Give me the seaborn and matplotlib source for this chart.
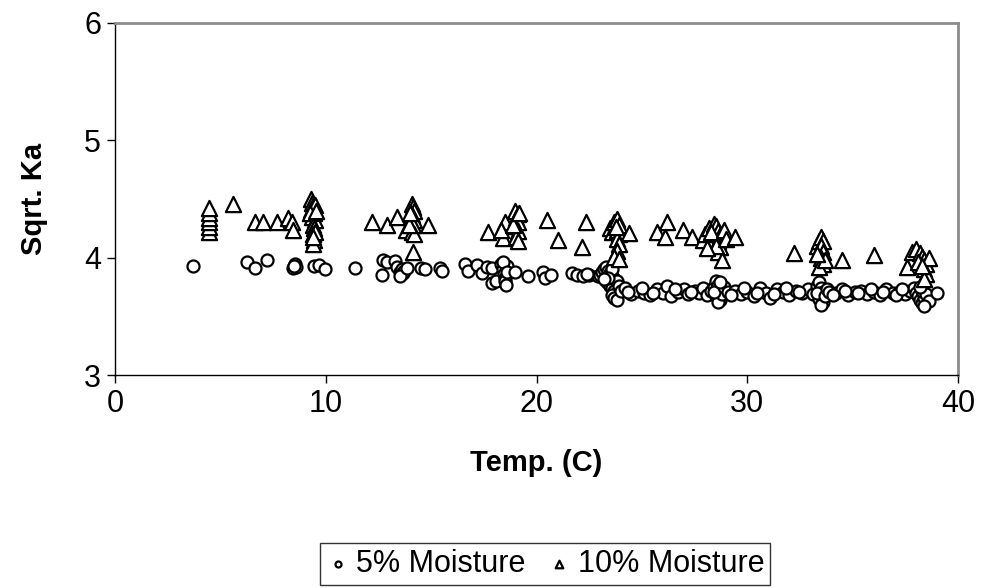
#%%
# Import libraries
import pandas as pd
import seaborn as sns
import matplotlib.pyplot as plt

#%%
# 5% moisture readings (temperature in C, square root of Ka)
temp_5 = [3.7, 6.26, 6.64, 7.2, 8.45, 8.55, 8.6, 8.5, 9.44, 9.7, 9.96, 11.4,
          12.7, 12.9, 12.67, 13.3, 13.4, 13.5, 13.55, 13.6, 13.65, 13.7, 13.5, 13.85,
          14.5, 14.7, 15.4, 15.5, 16.6, 16.75, 17.2, 17.4, 17.65, 17.9, 17.9, 18.1,
          18.3, 18.4, 18.45, 18.5, 18.5, 18.55, 18.6, 18.4, 18.6, 19.0, 19.6, 20.3,
          20.4, 20.7, 21.7, 21.9, 22.2, 22.5, 22.9, 22.4,
          23.0, 23.1, 23.2, 23.3, 23.4, 23.5, 23.6, 23.7, 23.3, 23.4, 23.5, 23.6,
          23.7, 23.8, 23.6, 23.7, 23.8, 23.5, 23.6, 23.8, 23.9, 24.0, 23.4, 23.2,
          24.2, 24.5, 24.8, 25.1, 25.4, 25.7, 26.0, 26.2, 26.4, 26.7, 27.0, 27.2,
          27.5, 27.7, 27.9, 28.1, 28.3,
          28.4, 28.5, 28.6, 28.7, 28.6, 28.5, 28.7, 28.6, 28.8, 28.4, 28.9, 28.7,
          29.1, 29.4, 29.7, 30.0, 30.3, 30.6, 30.9, 31.1, 31.4, 31.7, 32.0, 32.3,
          32.6, 32.9, 33.1,
          33.3, 33.4, 33.5, 33.6, 33.5, 33.4, 33.6, 33.5, 33.3, 33.7, 33.8,
          33.9, 34.2, 34.5, 34.8, 35.1, 35.4, 35.7, 36.0, 36.3, 36.6, 36.9, 37.2,
          37.5, 37.7,
          37.9, 38.0, 38.1, 38.2, 38.3, 38.4, 38.3, 38.5, 38.2, 38.6, 38.4, 39.0,
          24.35, 25.0, 25.55, 26.55, 27.35, 29.25, 29.85, 30.45, 31.25, 31.85,
          32.45, 34.05, 34.65, 35.25, 35.85, 36.45, 37.05, 37.35]
ka_5 = [3.93, 3.96, 3.91, 3.98, 3.91, 3.95, 3.92, 3.93, 3.93, 3.94, 3.90, 3.91,
        3.98, 3.96, 3.85, 3.97, 3.92, 3.88, 3.86, 3.90, 3.87, 3.89, 3.84, 3.91,
        3.91, 3.90, 3.91, 3.89, 3.95, 3.89, 3.94, 3.87, 3.92, 3.91, 3.78, 3.80,
        3.95, 3.90, 3.86, 3.83, 3.80, 3.77, 3.93, 3.96, 3.88, 3.88, 3.84, 3.88,
        3.83, 3.85, 3.87, 3.85, 3.84, 3.85, 3.84, 3.86,
        3.85, 3.88, 3.90, 3.92, 3.89, 3.87, 3.84, 3.82, 3.80, 3.78, 3.76, 3.74,
        3.72, 3.70, 3.68, 3.66, 3.64, 3.86, 3.90, 3.80, 3.76, 3.72, 3.83, 3.82,
        3.74, 3.69, 3.72, 3.70, 3.68, 3.73, 3.70, 3.76, 3.67, 3.71, 3.73, 3.69,
        3.72, 3.70, 3.74, 3.68, 3.72,
        3.75, 3.80, 3.77, 3.73, 3.70, 3.67, 3.64, 3.62, 3.69, 3.71, 3.75, 3.79,
        3.71, 3.72, 3.69, 3.71, 3.67, 3.74, 3.70, 3.66, 3.73, 3.71, 3.68, 3.72,
        3.70, 3.73, 3.69,
        3.76, 3.79, 3.74, 3.71, 3.68, 3.65, 3.62, 3.60, 3.70, 3.67, 3.73,
        3.71, 3.70, 3.73, 3.68, 3.71, 3.72, 3.69, 3.71, 3.68, 3.73, 3.70, 3.71,
        3.69, 3.72,
        3.74, 3.70, 3.67, 3.64, 3.61, 3.66, 3.72, 3.69, 3.75, 3.63, 3.59, 3.70,
        3.71, 3.74, 3.70, 3.73, 3.71, 3.68, 3.74, 3.70, 3.69, 3.74,
        3.71, 3.68, 3.72, 3.70, 3.73, 3.71, 3.68, 3.73]

# 10% moisture readings
temp_10 = [4.45, 4.45, 4.45, 4.45, 4.45, 4.45,
           5.6, 6.64, 7.0, 7.7, 8.2, 8.4, 8.45,
           9.3, 9.35, 9.4, 9.3, 9.45, 9.35, 9.5, 9.4, 9.45, 9.4, 9.45, 9.4,
           9.5, 9.25, 9.55, 9.5, 9.4,
           12.2, 12.9, 13.4, 13.8,
           14.1, 14.15, 14.2, 14.1, 14.2, 14.15, 14.1, 14.2, 14.15, 13.95, 14.0,
           14.85, 17.7, 18.5, 18.4, 18.3,
           19.0, 19.1, 19.05, 19.1, 19.0, 19.1, 19.05, 19.1, 18.9, 19.15,
           20.5, 21.0, 22.35, 22.15,
           23.5, 23.6, 23.7, 23.8, 23.9, 23.8, 23.9, 23.8, 23.9, 23.8, 23.7, 23.9, 23.75,
           24.4, 25.7, 26.2, 26.1, 26.95, 27.4,
           27.9, 28.0, 28.2, 28.4, 28.5, 28.6, 28.7, 28.6, 28.7, 28.6, 28.8, 28.5,
           28.3, 28.9, 28.1, 29.0,
           29.4, 32.2,
           33.3, 33.4, 33.5, 33.6, 33.5, 33.6, 33.5, 33.6, 33.4, 33.7, 33.3,
           34.5, 36.0, 37.6,
           37.8, 38.0, 38.2, 38.3, 38.4, 38.5, 38.4, 38.5, 38.4, 38.6, 38.1, 38.3]
ka_10 = [4.22, 4.26, 4.30, 4.34, 4.38, 4.42,
         4.46, 4.30, 4.30, 4.30, 4.34, 4.30, 4.24,
         4.50, 4.47, 4.44, 4.41, 4.38, 4.35, 4.32, 4.28, 4.25, 4.20, 4.15, 4.12,
         4.45, 4.38, 4.40, 4.22, 4.18,
         4.30, 4.28, 4.35, 4.24,
         4.46, 4.43, 4.40, 4.36, 4.32, 4.28, 4.22, 4.20, 4.05, 4.28, 4.38,
         4.28, 4.22, 4.30, 4.17, 4.24,
         4.40, 4.37, 4.34, 4.30, 4.27, 4.23, 4.18, 4.14, 4.28, 4.38,
         4.32, 4.15, 4.30, 4.09,
         4.25, 4.22, 4.30, 4.33, 4.28, 4.24, 4.20, 4.16, 4.12, 4.06, 4.01, 3.99, 4.26,
         4.21, 4.22, 4.30, 4.18, 4.24, 4.18,
         4.15, 4.20, 4.25, 4.29, 4.27, 4.23, 4.19, 4.14, 4.09, 4.05, 3.98, 4.10,
         4.22, 4.24, 4.08, 4.16,
         4.18, 4.04,
         4.10, 4.14, 4.18, 4.14, 4.10, 4.05, 4.00, 3.95, 3.92, 3.98, 4.03,
         3.98, 4.02, 3.92,
         4.05, 4.07, 4.04, 4.01, 3.98, 3.95, 3.90, 3.86, 3.82, 4.00, 3.96, 3.93]

#%%
data = pd.concat([
    pd.DataFrame({"temp": temp_5, "ka": ka_5, "sample": "5% Moisture"}),
    pd.DataFrame({"temp": temp_10, "ka": ka_10, "sample": "10% Moisture"}),
])

sns.set_style("white")
plt.rcParams["font.family"] = ["Liberation Sans", "DejaVu Sans"]
plt.rcParams["text.color"] = "black"
plt.rcParams["axes.labelcolor"] = "black"
plt.rcParams["xtick.color"] = "black"
plt.rcParams["ytick.color"] = "black"

fig = plt.figure(figsize=(9.81, 5.88), dpi=100)
ax = fig.add_axes([0.1172, 0.3622, 0.8594, 0.5987])

markers = {"5% Moisture": "o", "10% Moisture": "^"}
sizes = {"5% Moisture": 75, "10% Moisture": 120}
for name, grp in data.groupby("sample", sort=False):
    sns.scatterplot(data=grp, x="temp", y="ka", marker=markers[name], s=sizes[name],
                    facecolor="white", edgecolor="black", linewidth=1.6,
                    label=name, ax=ax, legend=False)

ax.set_xlim(0, 40)
ax.set_ylim(3, 6)
ax.set_xticks([0, 10, 20, 30, 40])
ax.set_yticks([3, 4, 5, 6])
ax.tick_params(axis="both", labelsize=22, direction="out", length=6, width=1,
               left=True, bottom=True, pad=4)

# Axis frame: dark left/bottom, grey top/right
for side in ["left", "bottom"]:
    ax.spines[side].set_color("black")
    ax.spines[side].set_linewidth(1.0)
for side in ["top", "right"]:
    ax.spines[side].set_color("#8c8c8c")
    ax.spines[side].set_linewidth(2.0)

ax.set_xlabel("Temp. (C)", fontsize=21, fontweight="bold", labelpad=22)
ax.set_ylabel("Sqrt. Ka", fontsize=21, fontweight="bold", labelpad=26)

handles, labels = ax.get_legend_handles_labels()
fig.legend(handles, labels, loc="lower center", bbox_to_anchor=(0.5555, 0.0),
           ncol=2, fontsize=22, markerscale=0.5, frameon=True, fancybox=False,
           edgecolor="black", handletextpad=0.2, columnspacing=0.7,
           handlelength=0.8, borderpad=0.2, borderaxespad=0.1)

plt.savefig("out.png", dpi=100)
